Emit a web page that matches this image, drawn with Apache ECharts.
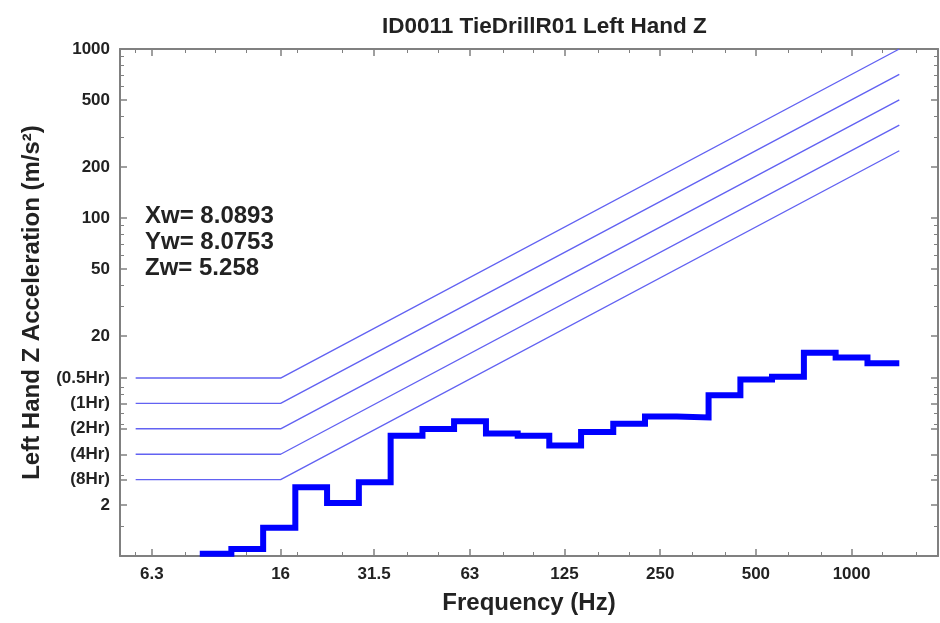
<!DOCTYPE html>
<html>
<head>
<meta charset="utf-8">
<script src="https://cdn.jsdelivr.net/npm/echarts@6/dist/echarts.min.js"></script>
<style>
html,body{margin:0;padding:0;background:#fff;}
#main{width:940px;height:623px;}
</style>
</head>
<body>
<div id="main"></div>
<script>
// ---- data ----
const titleText = 'ID0011 TieDrillR01 Left Hand Z';
const xName = 'Frequency (Hz)';
const yName = 'Left Hand Z Acceleration (m/s²)';

// third-octave band edges (Hz) and measured band levels (m/s²), bands 10 … 1250 Hz
const bandEdges = [8.91, 11.2, 14.1, 17.8, 22.4, 28.2, 35.5, 44.7, 56.2, 70.8, 89.1, 112, 141, 178, 224, 282, 355, 447, 562, 708, 891, 1122, 1413];
const bandValues = [1.03, 1.10, 1.47, 2.55, 2.06, 2.73, 5.15, 5.65, 6.27, 5.31, 5.15, 4.50, 5.42, 6.06, 6.70, 6.60, 8.95, 11.09, 11.49, 15.95, 14.97, 13.8];

// exposure limit curves: flat from 5.6 to 16 Hz, then rising to 1413 Hz
const limitNames = ['(0.5Hr)', '(1Hr)', '(2Hr)', '(4Hr)', '(8Hr)'];
const limitFreqs = [5.6, 16, 1413];
const limitFlat = [11.3, 8.0, 5.66, 4.0, 2.83];
const limitEnd = [1000, 707, 500, 354, 250];

// axis ticks
const xTickValues = [6.3, 16, 31.5, 63, 125, 250, 500, 1000];
const xTickLabels = ['6.3', '16', '31.5', '63', '125', '250', '500', '1000'];
const xMinorTicks = [5.6, 8, 10, 12.5, 18, 25, 40, 50, 80, 100, 160, 200, 315, 400, 630, 800, 1250, 1600];
const yTickValues = [2, 2.83, 4, 5.66, 8, 11.3, 20, 50, 100, 200, 500, 1000];
const yTickLabels = ['2', '(8Hr)', '(4Hr)', '(2Hr)', '(1Hr)', '(0.5Hr)', '20', '50', '100', '200', '500', '1000'];
const yMinorTicks = [1.5, 3, 6, 7, 9, 10, 30, 40, 60, 70, 80, 90, 300, 400, 600, 700, 800, 900];

const annotation = ['Xw= 8.0893', 'Yw= 8.0753', 'Zw= 5.258'];

// ---- build ----
const FONT = '"Liberation Sans", Arial, Helvetica, sans-serif';
const AXIS_COLOR = '#808080';

function labelFor(values, labels) {
  return function (v) {
    let best = 0, bd = Infinity;
    for (let i = 0; i < values.length; i++) {
      const d = Math.abs(Math.log(v) - Math.log(values[i]));
      if (d < bd) { bd = d; best = i; }
    }
    return labels[best];
  };
}

const stepData = bandEdges.map((e, i) => [e, bandValues[Math.min(i, bandValues.length - 1)]]);

const limitSeries = limitFlat.map((lv, i) => ({
  name: limitNames[i],
  type: 'line',
  xAxisIndex: 0, yAxisIndex: 0,
  data: [[limitFreqs[0], lv], [limitFreqs[1], lv], [limitFreqs[2], limitEnd[i]]],
  symbol: 'none',
  silent: true,
  lineStyle: { color: '#6262f2', width: 1.4 },
  z: 2
}));

const xBase = { type: 'log', min: 5, max: 1870, logBase: 10, splitLine: { show: false }, gridIndex: 0 };
const yBase = { type: 'log', min: 1, max: 1000, logBase: 10, splitLine: { show: false }, gridIndex: 0 };

const option = {
  backgroundColor: '#fff',
  animation: false,
  title: {
    text: titleText, left: 377, top: 10,
    textStyle: { fontFamily: FONT, fontWeight: 'bold', fontSize: 22.5, color: '#222' }
  },
  grid: { left: 120, right: 2, top: 49, bottom: 67, containLabel: false },
  xAxis: [
    Object.assign({}, xBase, {
      position: 'bottom',
      name: xName, nameLocation: 'middle', nameGap: 35,
      nameTextStyle: { fontFamily: FONT, fontWeight: 'bold', fontSize: 24, color: '#222' },
      axisLine: { show: true, lineStyle: { color: AXIS_COLOR, width: 2 } },
      axisTick: { show: true, inside: true, length: 7, customValues: xTickValues, lineStyle: { color: AXIS_COLOR, width: 1.5 } },
      axisLabel: { show: true, customValues: xTickValues, formatter: labelFor(xTickValues, xTickLabels), margin: 10,
        fontFamily: FONT, fontWeight: 'bold', fontSize: 17, color: '#222' }
    }),
    Object.assign({}, xBase, {
      position: 'bottom',
      axisLine: { show: false },
      axisTick: { show: true, inside: true, length: 4, customValues: xMinorTicks, lineStyle: { color: AXIS_COLOR, width: 1 } },
      axisLabel: { show: false }
    }),
    Object.assign({}, xBase, {
      position: 'top',
      axisLine: { show: true, lineStyle: { color: AXIS_COLOR, width: 2 } },
      axisTick: { show: true, inside: true, length: 7, customValues: xTickValues, lineStyle: { color: AXIS_COLOR, width: 1.5 } },
      axisLabel: { show: false }
    }),
    Object.assign({}, xBase, {
      position: 'top',
      axisLine: { show: false },
      axisTick: { show: true, inside: true, length: 4, customValues: xMinorTicks, lineStyle: { color: AXIS_COLOR, width: 1 } },
      axisLabel: { show: false }
    })
  ],
  yAxis: [
    Object.assign({}, yBase, {
      position: 'left',
      name: yName, nameLocation: 'middle', nameGap: 76, nameRotate: 90,
      nameTextStyle: { fontFamily: FONT, fontWeight: 'bold', fontSize: 24, color: '#222' },
      axisLine: { show: true, lineStyle: { color: AXIS_COLOR, width: 2 } },
      axisTick: { show: true, inside: true, length: 7, customValues: yTickValues, lineStyle: { color: AXIS_COLOR, width: 1.5 } },
      axisLabel: { show: true, customValues: yTickValues, formatter: labelFor(yTickValues, yTickLabels), margin: 10,
        fontFamily: FONT, fontWeight: 'bold', fontSize: 17, color: '#222' }
    }),
    Object.assign({}, yBase, {
      position: 'left',
      axisLine: { show: false },
      axisTick: { show: true, inside: true, length: 4, customValues: yMinorTicks, lineStyle: { color: AXIS_COLOR, width: 1 } },
      axisLabel: { show: false }
    }),
    Object.assign({}, yBase, {
      position: 'right',
      axisLine: { show: true, lineStyle: { color: AXIS_COLOR, width: 2 } },
      axisTick: { show: true, inside: true, length: 7, customValues: yTickValues, lineStyle: { color: AXIS_COLOR, width: 1.5 } },
      axisLabel: { show: false }
    }),
    Object.assign({}, yBase, {
      position: 'right',
      axisLine: { show: false },
      axisTick: { show: true, inside: true, length: 4, customValues: yMinorTicks, lineStyle: { color: AXIS_COLOR, width: 1 } },
      axisLabel: { show: false }
    })
  ],
  graphic: [{
    type: 'text', left: 145, top: 203, silent: true,
    style: { text: annotation.join('\n'), fontFamily: FONT, fontWeight: 'bold', fontSize: 24, lineHeight: 26, fill: '#222' }
  }],
  series: limitSeries.concat([{
    name: 'Left Hand Z',
    type: 'line',
    xAxisIndex: 0, yAxisIndex: 0,
    step: 'end',
    data: stepData,
    symbol: 'none',
    silent: true,
    lineStyle: { color: '#0000ff', width: 6, join: 'miter' },
    z: 3
  }])
};

const chart = echarts.init(document.getElementById('main'), null, { renderer: 'canvas' });
chart.setOption(option);
</script>
</body>
</html>
